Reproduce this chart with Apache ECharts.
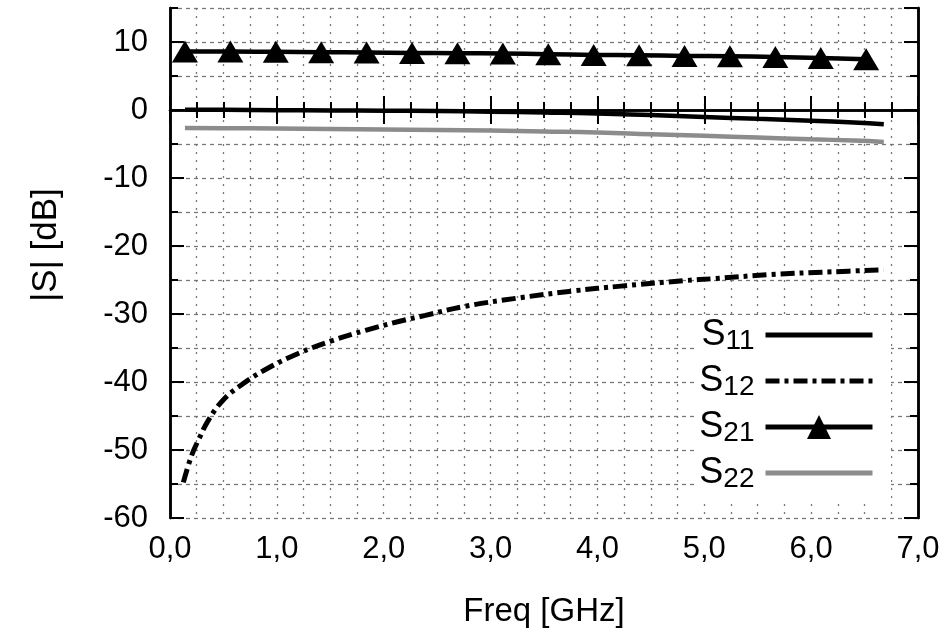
<!DOCTYPE html>
<html><head><meta charset="utf-8">
<script src="https://cdn.jsdelivr.net/npm/echarts@6/dist/echarts.min.js"></script>
<style>html,body{margin:0;padding:0;background:#fff}#c{width:943px;height:634px}</style>
</head><body><div id="c"></div>
<script>
// ---- data ----
const freq = [0.14, 0.5, 1.0, 1.5, 2.0, 2.5, 3.0, 3.5, 4.0, 4.5, 5.0, 5.5, 6.0, 6.4, 6.68];
const s11 = [0.05, 0.02, -0.02, -0.06, -0.1, -0.16, -0.24, -0.35, -0.5, -0.75, -1.02, -1.3, -1.58, -1.85, -2.1];
const s22 = [-2.65, -2.68, -2.72, -2.78, -2.85, -2.93, -3.03, -3.15, -3.3, -3.55, -3.8, -4.05, -4.3, -4.5, -4.7];
const s12Freq = [0.125, 0.2, 0.27, 0.36, 0.5, 0.67, 0.89, 1.2, 1.52, 1.83, 2.14, 2.39, 2.75, 3.28, 3.78, 4.22, 4.81, 5.09, 5.62, 6.19, 6.68];
const s12 = [-54.75, -50.9, -48.4, -45.6, -42.6, -40.4, -38.2, -35.8, -33.9, -32.4, -31.1, -30.2, -28.9, -27.6, -26.6, -25.9, -25.1, -24.8, -24.2, -23.8, -23.5];
const s21Freq = [0.14, 0.565, 0.99, 1.415, 1.84, 2.265, 2.69, 3.115, 3.54, 3.965, 4.39, 4.815, 5.24, 5.665, 6.09, 6.515];
const s21 = [8.6, 8.6, 8.55, 8.5, 8.45, 8.4, 8.35, 8.3, 8.2, 8.1, 8.05, 7.95, 7.9, 7.8, 7.65, 7.45];
const seriesNames = ['S11', 'S12', 'S21', 'S22'];
const xTickLabels = ['0,0', '1,0', '2,0', '3,0', '4,0', '5,0', '6,0', '7,0'];
const yTickLabels = ['-60', '-50', '-40', '-30', '-20', '-10', '0', '10'];

const zip = (xs, ys) => xs.map((x, i) => [x, ys[i]]);
const FONT = 'Liberation Sans, Arial, Helvetica, sans-serif';
const black = '#000';
const grey = '#8c8c8c';
const gridColor = '#777';
const dashDot = [14, 5, 4, 5];

const axisLine = { show: true, lineStyle: { color: black, width: 2.5 } };
function xAx(pos, labels) {
  return {
    type: 'value', min: 0, max: 7, interval: 1, position: pos,
    axisLine: axisLine,
    axisTick: { show: true, inside: true, length: 14, lineStyle: { color: black, width: 2 } },
    minorTick: { show: true, splitNumber: 4, length: 8, lineStyle: { color: black, width: 2 } },
    axisLabel: labels ? {
      show: true, fontFamily: FONT, fontSize: 31, color: black, margin: 16,
      formatter: v => xTickLabels[Math.round(v)]
    } : { show: false },
    splitLine: labels ? { show: true, lineStyle: { color: gridColor, width: 1.3, type: [2, 6] } } : { show: false },
    minorSplitLine: labels ? { show: true, lineStyle: { color: gridColor, width: 1.3, type: [2, 6] } } : { show: false },
    name: labels ? 'Freq [GHz]' : '',
    nameLocation: 'middle', nameGap: 77,
    nameTextStyle: { fontFamily: FONT, fontSize: 33, color: black }
  };
}
function yAx(pos, interval, labels, split) {
  return {
    type: 'value', min: -60, max: 15, interval: interval, position: pos,
    axisLine: axisLine,
    axisTick: { show: true, inside: true, length: interval === 10 ? 14 : 8, lineStyle: { color: black, width: 2 } },
    axisLabel: labels ? {
      show: true, fontFamily: FONT, fontSize: 31, color: black, margin: 22, showMaxLabel: false,
      formatter: v => yTickLabels[Math.round((v + 60) / 10)] || ''
    } : { show: false },
    splitLine: split ? { show: true, lineStyle: { color: gridColor, width: 1.3, type: [4, 4] } } : { show: false },
    name: labels ? '|S| [dB]' : '',
    nameLocation: 'middle', nameGap: 106,
    nameTextStyle: { fontFamily: FONT, fontSize: 35, color: black, padding: [0, 0, 0, 36] }
  };
}

const hiddenSymbol = { opacity: 0 };
const chart = echarts.init(document.getElementById('c'), null, { renderer: 'canvas' });
chart.setOption({
  animation: false,
  backgroundColor: '#fff',
  grid: { left: 170, right: 25, top: 8, bottom: 116 },
  xAxis: [xAx('bottom', true), xAx('top', false)],
  yAxis: [yAx('left', 10, true, false), yAx('left', 5, false, true), yAx('right', 10, false, false), yAx('right', 5, false, false)],
  legend: {
    orient: 'vertical', align: 'right', right: 52, top: 315,
    data: [
      { name: seriesNames[0], itemStyle: hiddenSymbol, lineStyle: { color: black, width: 5 } },
      { name: seriesNames[1], itemStyle: hiddenSymbol, lineStyle: { color: black, width: 5, type: dashDot } },
      { name: seriesNames[2], lineStyle: { color: black, width: 5 } },
      { name: seriesNames[3], itemStyle: hiddenSymbol, lineStyle: { color: grey, width: 5 } }
    ],
    itemWidth: 107, itemHeight: 30, itemGap: 8,
    padding: [2, 16, 6, 2],
    backgroundColor: '#fff',
    formatter: n => '{s|S}{sub|' + n.slice(1) + '}',
    textStyle: {
      color: black, fontFamily: FONT,
      rich: {
        s: { fontFamily: FONT, fontSize: 36, lineHeight: 40, verticalAlign: 'middle', color: black },
        sub: { fontFamily: FONT, fontSize: 28, lineHeight: 16, verticalAlign: 'bottom', color: black, padding: [0, 6, 0, 0] }
      }
    }
  },
  series: [
    { name: 'S11', type: 'line', data: zip(freq, s11), smooth: true, symbol: 'none',
      lineStyle: { color: black, width: 4.5 }, itemStyle: { color: black } },
    { name: 'S12', type: 'line', data: zip(s12Freq, s12), smooth: 0.4, symbol: 'none',
      lineStyle: { color: black, width: 5, type: dashDot }, itemStyle: { color: black } },
    { name: 'S21', type: 'line', data: zip(s21Freq, s21), smooth: true, symbol: 'triangle', symbolSize: [26, 22],
      showAllSymbol: true,
      lineStyle: { color: black, width: 4.5 }, itemStyle: { color: black } },
    { name: 'S22', type: 'line', data: zip(freq, s22), smooth: true, symbol: 'none',
      lineStyle: { color: grey, width: 4.5 }, itemStyle: { color: grey } }
  ]
});
</script>
</body></html>
